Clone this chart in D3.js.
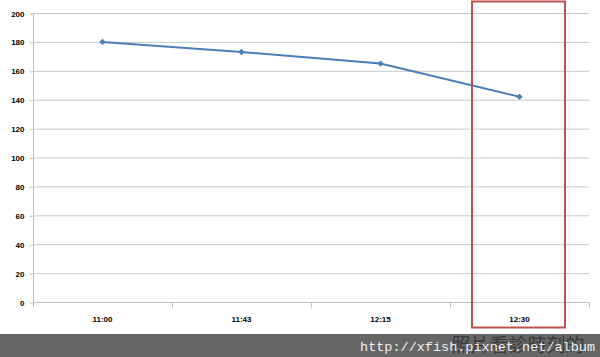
<!DOCTYPE html>
<html><head><meta charset="utf-8">
<script src="https://cdn.jsdelivr.net/npm/d3@7/dist/d3.min.js"></script>
<style>body{margin:0;background:#fff;}svg{display:block;}</style>
</head><body>
<script>
const categories = ["11:00","11:43","12:15","12:30"];
const values = [180, 173, 165, 142];
const yTicks = [0,20,40,60,80,100,120,140,160,180,200];

const W=600,H=357;
const svg=d3.select("body").append("svg").attr("width",W).attr("height",H);
const x=d3.scaleBand().domain(categories).range([33,589]);
const y=d3.scaleLinear().domain([0,200]).range([302,13]);

// gridlines
svg.append("g").selectAll("line").data(yTicks.filter(d=>d>0)).join("line")
  .attr("x1",33).attr("x2",589).attr("y1",d=>y(d)+0.5).attr("y2",d=>y(d)+0.5)
  .attr("stroke","#c8c8c8").attr("stroke-width",1);

// y axis
const ya=svg.append("g").attr("transform","translate(33.5,0.5)")
  .call(d3.axisLeft(y).tickValues(yTicks).tickSize(4).tickPadding(5));
ya.select(".domain").attr("stroke","#c0c0c0").attr("d","M0,"+(y(200)-0.5)+"V"+(y(0)+0.5));
ya.selectAll(".tick line").attr("stroke","#c0c0c0");
ya.selectAll("text").attr("font-family","Liberation Sans, Arial, sans-serif")
  .attr("font-size","8px").attr("font-weight","bold").attr("fill","#000");

// x axis
const xa=svg.append("g").attr("transform","translate(0,"+(y(0)+0.5)+")");
xa.append("line").attr("x1",33).attr("x2",589).attr("stroke","#c0c0c0");
const bounds=[...categories.map(c=>x(c)), x.range()[1]];
xa.selectAll("line.t").data(bounds).join("line").attr("class","t")
  .attr("x1",d=>Math.round(d)+0.5).attr("x2",d=>Math.round(d)+0.5).attr("y1",0).attr("y2",5)
  .attr("stroke","#c0c0c0");
xa.selectAll("text").data(categories).join("text")
  .attr("x",d=>x(d)+x.bandwidth()/2).attr("y",19).attr("text-anchor","middle")
  .attr("font-family","Liberation Sans, Arial, sans-serif").attr("font-size","8px")
  .attr("font-weight","bold").attr("fill","#000").text(d=>d);

// line
const pts=categories.map((c,i)=>[x(c)+x.bandwidth()/2,y(values[i])]);
svg.append("path").attr("d",d3.line()(pts)).attr("fill","none")
  .attr("stroke","#4a7ebb").attr("stroke-width",2);
svg.append("g").selectAll("path").data(pts).join("path")
  .attr("transform",d=>`translate(${d[0]},${d[1]}) rotate(45)`)
  .attr("d",d3.symbol(d3.symbolSquare,20)()).attr("fill","#4a7ebb");

// red highlight box
svg.append("rect").attr("x",472).attr("y",1.5).attr("width",93).attr("height",326)
  .attr("fill","none").attr("stroke","#c0504d").attr("stroke-width",2);

// footer watermark
svg.append("rect").attr("x",0).attr("y",334).attr("width",W).attr("height",23).attr("fill","#666");
svg.append("text").attr("x",518).attr("y",352).attr("text-anchor","middle")
  .attr("font-family","Noto Sans CJK TC, sans-serif").attr("font-size","19px")
  .attr("fill","#3a3a3a").text("照片看診時刻的");
svg.append("text").attr("x",595).attr("y",351).attr("text-anchor","end")
  .attr("font-family","Liberation Mono, DejaVu Sans Mono, monospace").attr("font-size","13.5px")
  .attr("fill","#f0f0f0").text("http://xfish.pixnet.net/album");
</script>
</body></html>
